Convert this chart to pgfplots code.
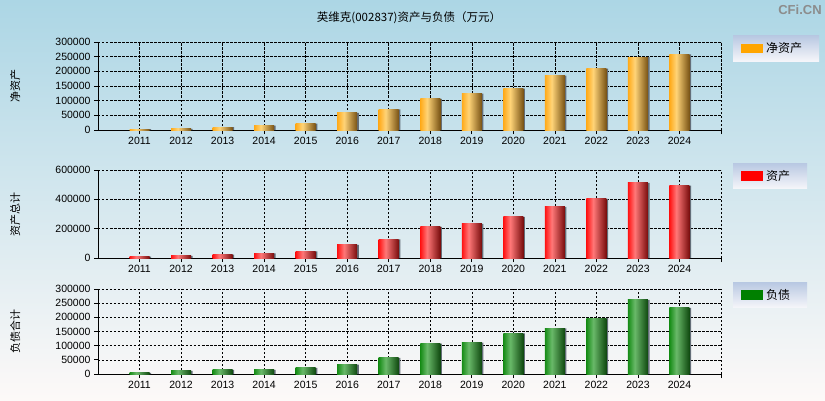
\documentclass[border=0pt]{standalone}
\usepackage{pgfplots}
\pgfplotsset{compat=1.18}
\usepackage{fontspec}
\setmainfont{Liberation Sans}
\newfontfamily\cjk{Noto Sans CJK SC}
\definecolor{bgtop}{RGB}{172,214,229}
\definecolor{bgbot}{RGB}{253,249,248}
\definecolor{legtop}{RGB}{184,200,226}
\definecolor{legbot}{RGB}{246,246,250}
\definecolor{orL}{RGB}{255,170,25}
\definecolor{orM}{RGB}{255,212,120}
\definecolor{orR}{RGB}{120,82,20}
\definecolor{rdL}{RGB}{255,18,18}
\definecolor{rdM}{RGB}{255,120,120}
\definecolor{rdR}{RGB}{120,12,12}
\definecolor{gnL}{RGB}{22,140,22}
\definecolor{gnM}{RGB}{105,185,105}
\definecolor{gnR}{RGB}{15,72,15}
\definecolor{shd}{RGB}{100,110,120}
\definecolor{legor}{RGB}{255,165,0}
\definecolor{legrd}{RGB}{255,0,0}
\definecolor{leggn}{RGB}{0,128,0}
\pgfdeclarehorizontalshading{orbar}{100bp}{color(0bp)=(orL); color(25bp)=(orL); color(42bp)=(orM); color(75bp)=(orR); color(100bp)=(orR)}
\pgfdeclarehorizontalshading{rdbar}{100bp}{color(0bp)=(rdL); color(25bp)=(rdL); color(42bp)=(rdM); color(75bp)=(rdR); color(100bp)=(rdR)}
\pgfdeclarehorizontalshading{gnbar}{100bp}{color(0bp)=(gnL); color(25bp)=(gnL); color(42bp)=(gnM); color(75bp)=(gnR); color(100bp)=(gnR)}

\pgfplotstableread{
year net assets liab
2011 3000 9000 3600
2012 3500 15000 10700
2013 10000 23000 14300
2014 15000 32000 14300
2015 21500 45000 21400
2016 58500 90000 33300
2017 70000 127000 57000
2018 106500 213000 107000
2019 124000 233000 110700
2020 141000 281000 143000
2021 185500 349000 160700
2022 209500 403000 197600
2023 248500 512000 262000
2024 257700 494000 233000
}\datatable

\pgfplotsset{
  panel/.style={
    scale only axis, width=623pt, anchor=south west,
    xmin=2010, xmax=2025, ymin=0,
    axis lines=left, axis line style={-, black, line width=0.9pt},
    xtick={2011,2012,2013,2014,2015,2016,2017,2018,2019,2020,2021,2022,2023,2024,2025},
    xticklabels={2011,2012,2013,2014,2015,2016,2017,2018,2019,2020,2021,2022,2023,2024,{}},
    tick style={black, line width=0.7pt},
    tick align=outside, major tick length=4pt,
    grid=major, grid style={black, line width=0.6pt, dash pattern=on 2.5pt off 1.5pt},
    scaled y ticks=false,
    yticklabel style={/pgf/number format/fixed, /pgf/number format/1000 sep={}},
    /pgf/number format/assume math mode=true,
    tick label style={font=\fontsize{10.5}{12}\selectfont, text=black},
    every axis y label/.style={at={(axis description cs:-0.133,0.5)}, rotate=90, anchor=center, font=\cjk\fontsize{11}{12}\selectfont},
    legend style={anchor=north west, draw=none, top color=legtop, bottom color=legbot,
      font=\cjk\fontsize{12}{13}\selectfont, inner xsep=8pt, inner ysep=4pt,
      nodes={inner xsep=3pt, inner ysep=3pt}},
    bar width=20pt,
  },
  legimg/.style={legend image code/.code={\fill[#1] (0pt,-4.6pt) rectangle (22pt,4.6pt);}},
}

\begin{document}
\begin{tikzpicture}
\path[use as bounding box] (0,0) rectangle (825pt,400pt);
\shade[top color=bgtop, bottom color=bgbot] (0,0) rectangle (825pt,400pt);
\node[font=\cjk\fontsize{11.5}{13}\selectfont, text=black] at (409pt,382pt) {英维克(002837)资产与负债（万元）};
\node[font=\bfseries\fontsize{13}{14}\selectfont, text=black!45] at (800pt,390pt) {CFi.CN};

\begin{axis}[panel, at={(98pt,270pt)}, height=88pt, ymax=300000,
  ytick={0,50000,100000,150000,200000,250000,300000},
  ylabel={净资产}, legimg=legor,
  legend style={at={(1.0193,1.074)}}]
\addplot[ybar, bar shift=1.6pt, draw=none, fill=shd, forget plot] table[x=year, y=net] {\datatable};
\pgfplotsinvokeforeach{2011,2012,2013,2014,2015,2016,2017,2018,2019,2020,2021,2022,2023,2024}{
\addplot[ybar, bar shift=0pt, draw=none, shading=orbar, forget plot, restrict x to domain=#1:#1] table[x=year, y=net] {\datatable};
}
\addlegendimage{draw=none}
\addlegendentry{净资产\hspace*{6pt}}
\end{axis}

\begin{axis}[panel, at={(98pt,142pt)}, height=88pt, ymax=600000,
  ytick={0,200000,400000,600000},
  ylabel={资产总计}, legimg=legrd,
  legend style={at={(1.0193,1.08)}}]
\addplot[ybar, bar shift=1.6pt, draw=none, fill=shd, forget plot] table[x=year, y=assets] {\datatable};
\pgfplotsinvokeforeach{2011,2012,2013,2014,2015,2016,2017,2018,2019,2020,2021,2022,2023,2024}{
\addplot[ybar, bar shift=0pt, draw=none, shading=rdbar, forget plot, restrict x to domain=#1:#1] table[x=year, y=assets] {\datatable};
}
\addlegendimage{draw=none}
\addlegendentry{资产\hspace*{6pt}}
\end{axis}

\begin{axis}[panel, at={(98pt,26pt)}, height=85pt, ymax=300000,
  ytick={0,50000,100000,150000,200000,250000,300000},
  ylabel={负债合计}, legimg=leggn,
  legend style={at={(1.0193,1.082)}}]
\addplot[ybar, bar shift=1.6pt, draw=none, fill=shd, forget plot] table[x=year, y=liab] {\datatable};
\pgfplotsinvokeforeach{2011,2012,2013,2014,2015,2016,2017,2018,2019,2020,2021,2022,2023,2024}{
\addplot[ybar, bar shift=0pt, draw=none, shading=gnbar, forget plot, restrict x to domain=#1:#1] table[x=year, y=liab] {\datatable};
}
\addlegendimage{draw=none}
\addlegendentry{负债\hspace*{6pt}}
\end{axis}
\end{tikzpicture}
\end{document}
